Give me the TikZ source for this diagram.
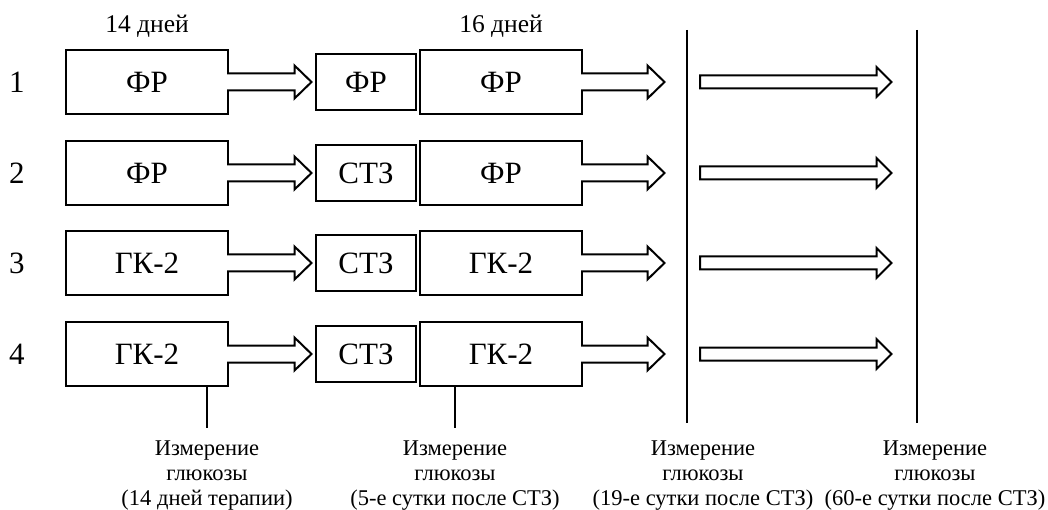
\documentclass[tikz,border=0pt]{standalone}
\usepackage{fontspec}
\setmainfont{Liberation Serif}
\usetikzlibrary{positioning, calc}

\begin{document}
\begin{tikzpicture}[-,x=1pt,y=-1pt,line width=2pt]
        \tikzstyle{point}=[coordinate]
        \tikzstyle{longbox}=[draw, rectangle, minimum height=64pt, minimum width=162pt, font=\fontsize{31}{34}\selectfont]
        \tikzstyle{shortbox}=[draw, rectangle, minimum height=56pt, minimum width=100pt, font=\fontsize{31}{34}\selectfont]
        \tikzstyle{group}=[font=\fontsize{31}{34}\selectfont]
        \tikzstyle{days}=[font=\fontsize{25.5}{28}\selectfont]
        \tikzstyle{measure}=[align=center, anchor=north, inner sep=0pt, font=\fontsize{22.5}{25}\selectfont]
        \tikzstyle{joined}=[fill=white, to path={let \p1=(\tikztostart), \p2=(\tikztotarget) in
            (\x1-2pt,\y1+8.5pt) -- (\x2-17pt,\y1+8.5pt) -- (\x2-17pt,\y1+16.5pt) -- (\x2,\y1)
            -- (\x2-17pt,\y1-16.5pt) -- (\x2-17pt,\y1-8.5pt) -- (\x1-2pt,\y1-8.5pt)}]
        \tikzstyle{loose}=[fill=white, to path={let \p1=(\tikztostart), \p2=(\tikztotarget) in
            (\x1,\y1+6.5pt) -- (\x2-15pt,\y1+6.5pt) -- (\x2-15pt,\y1+15pt) -- (\x2,\y1)
            -- (\x2-15pt,\y1-15pt) -- (\x2-15pt,\y1-6.5pt) -- (\x1,\y1-6.5pt) -- cycle}]
        \useasboundingbox (0,0) rectangle (1048,510);
        % rows
        \node[longbox]  (a1) at (147,82)        {ФР};
        \node[shortbox] (b1) [right=86pt of a1] {ФР};
        \node[longbox]  (c1) [right=2pt of b1]  {ФР};
        \node[longbox]  (a2) at (147,173)       {ФР};
        \node[shortbox] (b2) [right=86pt of a2] {СТЗ};
        \node[longbox]  (c2) [right=2pt of b2]  {ФР};
        \node[longbox]  (a3) at (147,263)       {ГК-2};
        \node[shortbox] (b3) [right=86pt of a3] {СТЗ};
        \node[longbox]  (c3) [right=2pt of b3]  {ГК-2};
        \node[longbox]  (a4) at (147,354)       {ГК-2};
        \node[shortbox] (b4) [right=86pt of a4] {СТЗ};
        \node[longbox]  (c4) [right=2pt of b4]  {ГК-2};
        \node[group] (n1) [left=36pt of a1] {1};
        \node[group] (n2) [left=36pt of a2] {2};
        \node[group] (n3) [left=36pt of a3] {3};
        \node[group] (n4) [left=36pt of a4] {4};
        \node[days] (d14) [above=7pt of a1] {14 дней};
        \node[days] (d16) [above=7pt of c1] {16 дней};
        % measurement points
        \node[point] (v3) at (687,30)  {};
        \node[point] (w3) at (687,423) {};
        \node[point] (v4) at (917,30)  {};
        \node[point] (w4) at (917,423) {};
        \node[measure] (m1) at (207,440) {Измерение\\глюкозы\\(14 дней терапии)};
        \node[measure] (m2) at (455,440) {Измерение\\глюкозы\\(5-е сутки после СТЗ)};
        \node[measure] (m3) at (703,440) {Измерение\\глюкозы\\(19-е сутки после СТЗ)};
        \node[measure] (m4) at (935,440) {Измерение\\глюкозы\\(60-е сутки после СТЗ)};
        \draw (v3) -- (w3);
        \draw (v4) -- (w4);
        \draw (m1.north |- a4.south) -- ($(m1.north)+(0,-12)$);
        \draw (m2.north |- c4.south) -- ($(m2.north)+(0,-12)$);
        \foreach \i in {1,...,4} {
            \draw[joined] (a\i.east) to ($(b\i.west)+(-3.5,0)$);
            \draw[joined] (c\i.east) to ($(v3 |- c\i)+(-22.5,0)$);
            \draw[loose] ($(v3 |- c\i)+(13,0)$) to ($(v4 |- c\i)+(-25.5,0)$);
        }
    \end{tikzpicture}
\end{document}
